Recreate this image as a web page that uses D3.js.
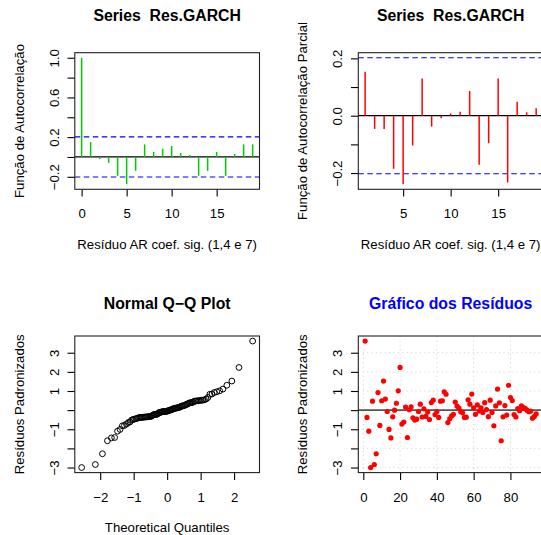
<!DOCTYPE html>
<html lang="pt">
<head>
<meta charset="utf-8">
<title>Res.GARCH</title>
<script src="https://cdnjs.cloudflare.com/ajax/libs/d3/7.8.5/d3.min.js"></script>
<style>
body { margin: 0; background: #fff; }
svg { display: block; }
</style>
</head>
<body>
<script>
// data
var acfLags = d3.range(0, 20);
var acfValues = [1.0, 0.15, -0.02, -0.06, -0.19, -0.275, -0.14, 0.127, 0.05, 0.083,
                 0.11, 0.04, 0.02, -0.19, -0.14, 0.05, -0.19, 0.03, 0.127, 0.127];
var pacfLags = d3.range(1, 20);
var pacfValues = [0.153, -0.046, -0.046, -0.185, -0.239, -0.104, 0.13, -0.038, -0.009, 0.008,
                  0.014, 0.086, -0.171, -0.096, 0.13, -0.233, 0.049, 0.012, 0.026];
var residuos = [3.61, -0.38, -1.10, -3.00, 0.47, -2.84, -2.28, 0.92, -0.80, 0.49,
                1.52, 0.58, -0.07, -1.01, -1.45, -0.35, 0.00, 0.36, 1.01, 2.23,
                -0.73, -0.62, 0.16, -1.43, 0.02, 0.17, -0.40, -0.52, -0.47, -0.07,
                0.31, -0.36, 0.07, -0.33, -0.10, -0.49, 0.40, 0.52, -0.23, -0.07,
                -0.38, 0.47, 0.49, 0.96, 0.83, -0.65, -0.45, -0.30, -0.22, 0.42,
                0.21, 0.10, -0.08, -0.14, -0.38, -0.37, 0.54, 0.31, 0.84, 0.12,
                -0.22, 0.27, -0.05, 0.12, -0.12, 0.39, 0.03, -0.34, 0.52, -0.12,
                -0.82, 0.22, 1.10, 0.38, -1.60, -0.35, 0.24, -0.26, 1.30, 0.66,
                0.50, -0.23, -0.36, 0.08, -0.03, 0.23, 0.13, 0.09, 0.00, -0.08,
                -0.05, -0.42, -0.33, -0.20];

// ticks (only the ones inside each axis range, like R's axTicks)
var acfXTicks = [0, 5, 10, 15];
var acfYTicks = [-0.2, 0, 0.2, 0.4, 0.6, 0.8, 1.0];
var acfYLabels = ["\u22120.2", "", "0.2", "", "0.6", "", "1.0"];
var pacfXTicks = [5, 10, 15];
var pacfYTicks = [-0.2, -0.1, 0, 0.1, 0.2];
var pacfYLabels = ["\u22120.2", "", "0.0", "", "0.2"];
var qqXTicks = [-2, -1, 0, 1, 2];
var qqXLabels = ["\u22122", "\u22121", "0", "1", "2"];
var resXTicks = [0, 20, 40, 60, 80];
var resYTicks = [-3, -2, -1, 0, 1, 2, 3];
var resYLabels = ["\u22123", "", "\u22121", "", "1", "2", "3"];

var FONT = "'Liberation Sans', Arial, Helvetica, sans-serif";
var w = 541, h = 535;
var pw = 184.7, ph = 136.6;
var cols = [74.8, 358.3], rows = [52.7, 336];

var n = residuos.length;
var clim = 1.96 / Math.sqrt(n);

var svg = d3.select("body").append("svg")
  .attr("width", w).attr("height", h)
  .attr("font-family", FONT);

// R style axis limits: data range plus 4%
function rpad(ext) {
  var d = (ext[1] - ext[0]) * 0.04;
  return [ext[0] - d, ext[1] + d];
}

// inverse normal cdf (Acklam) for the qq plot
function qnorm(p) {
  var a = [-39.69683028665376, 220.9460984245205, -275.9285104469687, 138.3577518672690, -30.66479806614716, 2.506628277459239];
  var b = [-54.47609879822406, 161.5858368580409, -155.6989798598866, 66.80131188771972, -13.28068155288572];
  var c = [-0.007784894002430293, -0.3223964580411365, -2.400758277161838, -2.549732539343734, 4.374664141464968, 2.938163982698783];
  var d = [0.007784695709041462, 0.3224671290700398, 2.445134137142996, 3.754408661907416];
  var q, r;
  if (p < 0.02425) {
    q = Math.sqrt(-2 * Math.log(p));
    return (((((c[0]*q+c[1])*q+c[2])*q+c[3])*q+c[4])*q+c[5]) / ((((d[0]*q+d[1])*q+d[2])*q+d[3])*q+1);
  }
  if (p > 1 - 0.02425) return -qnorm(1 - p);
  q = p - 0.5; r = q * q;
  return (((((a[0]*r+a[1])*r+a[2])*r+a[3])*r+a[4])*r+a[5])*q / (((((b[0]*r+b[1])*r+b[2])*r+b[3])*r+b[4])*r+1);
}

function panel(col, row) {
  return svg.append("g").attr("transform", "translate(" + cols[col] + "," + rows[row] + ")");
}

function frame(g, x, y, xt, xl, yt, yl, title, xlab, ylab, titleY, titleColor) {
  var ax = g.append("g").attr("transform", "translate(0," + ph + ")")
    .call(d3.axisBottom(x).tickValues(xt).tickSize(7.3).tickSizeOuter(0)
      .tickFormat(function(d, i) { return xl ? xl[i] : d; }));
  ax.select(".domain").remove();
  ax.attr("font-family", FONT).attr("font-size", 13.2);
  ax.selectAll("line").attr("stroke-width", 1.1);
  ax.selectAll("text").attr("y", 29).attr("dy", null).attr("fill", "#000");

  var ay = g.append("g")
    .call(d3.axisLeft(y).tickValues(yt).tickSize(7.3).tickSizeOuter(0)
      .tickFormat(function(d, i) { return yl[i]; }));
  ay.select(".domain").remove();
  ay.attr("font-family", FONT).attr("font-size", 13.2);
  ay.selectAll("line").attr("stroke-width", 1.1);
  ay.selectAll("text").attr("x", 0).attr("y", -16).attr("dy", null)
    .attr("transform", "rotate(-90)").attr("text-anchor", "middle").attr("fill", "#000");

  g.append("rect").attr("width", pw).attr("height", ph)
    .attr("fill", "none").attr("stroke", "#222").attr("stroke-width", 1.1);

  g.append("text").text(title)
    .attr("x", pw / 2).attr("y", titleY)
    .attr("text-anchor", "middle").attr("font-weight", "bold")
    .attr("font-size", 15.8).attr("fill", titleColor || "#000");
  g.append("text").text(xlab)
    .attr("x", pw / 2).attr("y", ph + 59.5)
    .attr("text-anchor", "middle").attr("font-size", 13.2);
  g.append("text").text(ylab)
    .attr("transform", "translate(-51," + (ph / 2) + ") rotate(-90)")
    .attr("text-anchor", "middle").attr("font-size", 13.2);
}

// 1: ACF
var x1 = d3.scaleLinear().domain(rpad([0, 19])).range([0, pw]);
var y1 = d3.scaleLinear().domain(rpad(d3.extent(acfValues.concat([-clim, clim])))).range([ph, 0]);
var g1 = panel(0, 0);
g1.append("line").attr("x1", 0).attr("x2", pw).attr("y1", y1(0)).attr("y2", y1(0))
  .attr("stroke", "#000").attr("stroke-width", 1.2);
g1.selectAll("line.clim").data([clim, -clim]).enter().append("line")
  .attr("class", "clim")
  .attr("x1", 0).attr("x2", pw)
  .attr("y1", function(d) { return y1(d); }).attr("y2", function(d) { return y1(d); })
  .attr("stroke", "#0000ff").attr("stroke-width", 1.1).attr("stroke-dasharray", "5.5,3.5");
g1.selectAll("line.bar").data(acfValues).enter().append("line")
  .attr("class", "bar")
  .attr("x1", function(d, i) { return x1(acfLags[i]); })
  .attr("x2", function(d, i) { return x1(acfLags[i]); })
  .attr("y1", y1(0))
  .attr("y2", function(d) { return y1(d); })
  .attr("stroke", "#00cd00").attr("stroke-width", 1.5);
frame(g1, x1, y1, acfXTicks, null, acfYTicks, acfYLabels,
  "Series\u00a0 Res.GARCH", "Resíduo AR coef. sig. (1,4 e 7)", "Função de Autocorrelação", -32);

// 2: PACF
var x2 = d3.scaleLinear().domain(rpad([1, 19])).range([0, pw]);
var y2 = d3.scaleLinear().domain(rpad(d3.extent(pacfValues.concat([-clim, clim])))).range([ph, 0]);
var g2 = panel(1, 0);
g2.append("line").attr("x1", 0).attr("x2", pw).attr("y1", y2(0)).attr("y2", y2(0))
  .attr("stroke", "#000").attr("stroke-width", 1.2);
g2.selectAll("line.clim").data([clim, -clim]).enter().append("line")
  .attr("class", "clim")
  .attr("x1", 0).attr("x2", pw)
  .attr("y1", function(d) { return y2(d); }).attr("y2", function(d) { return y2(d); })
  .attr("stroke", "#0000ff").attr("stroke-width", 1.1).attr("stroke-dasharray", "5.5,3.5");
g2.selectAll("line.bar").data(pacfValues).enter().append("line")
  .attr("class", "bar")
  .attr("x1", function(d, i) { return x2(pacfLags[i]); })
  .attr("x2", function(d, i) { return x2(pacfLags[i]); })
  .attr("y1", y2(0))
  .attr("y2", function(d) { return y2(d); })
  .attr("stroke", "#ff0000").attr("stroke-width", 1.5);
frame(g2, x2, y2, pacfXTicks, null, pacfYTicks, pacfYLabels,
  "Series\u00a0 Res.GARCH", "Resíduo AR coef. sig. (1,4 e 7)", "Função de Autocorrelação Parcial", -32);

// 3: Normal Q-Q
var ordenados = residuos.slice().sort(d3.ascending);
var teoricos = ordenados.map(function(d, i) { return qnorm((i + 1 - 0.5) / n); });
var x3 = d3.scaleLinear().domain(rpad(d3.extent(teoricos))).range([0, pw]);
var y3 = d3.scaleLinear().domain(rpad(d3.extent(residuos))).range([ph, 0]);
var g3 = panel(0, 1);
g3.selectAll("circle").data(ordenados).enter().append("circle")
  .attr("cx", function(d, i) { return x3(teoricos[i]); })
  .attr("cy", function(d) { return y3(d); })
  .attr("r", 2.9)
  .attr("fill", "none").attr("stroke", "#000").attr("stroke-width", 1);
frame(g3, x3, y3, qqXTicks, qqXLabels, resYTicks, resYLabels,
  "Normal Q\u2212Q Plot", "Theoretical Quantiles", "Resíduos Padronizados", -27.5);

// 4: residuals by index
var x4 = d3.scaleLinear().domain(rpad([1, n])).range([0, pw]);
var y4 = d3.scaleLinear().domain(rpad(d3.extent(residuos))).range([ph, 0]);
var g4 = panel(1, 1);
g4.selectAll("line.vgrid").data(resXTicks).enter().append("line")
  .attr("class", "vgrid")
  .attr("x1", function(d) { return x4(d); }).attr("x2", function(d) { return x4(d); })
  .attr("y1", 0).attr("y2", ph)
  .attr("stroke", "#d3d3d3").attr("stroke-dasharray", "1.1,3.3");
g4.selectAll("line.hgrid").data(resYTicks).enter().append("line")
  .attr("class", "hgrid")
  .attr("x1", 0).attr("x2", pw)
  .attr("y1", function(d) { return y4(d); }).attr("y2", function(d) { return y4(d); })
  .attr("stroke", "#d3d3d3").attr("stroke-dasharray", "1.1,3.3");
g4.append("line").attr("x1", 0).attr("x2", pw).attr("y1", y4(0)).attr("y2", y4(0))
  .attr("stroke", "#555").attr("stroke-width", 1.8);
g4.selectAll("circle").data(residuos).enter().append("circle")
  .attr("cx", function(d, i) { return x4(i + 1); })
  .attr("cy", function(d) { return y4(d); })
  .attr("r", 2.6)
  .attr("fill", "#ff0000");
frame(g4, x4, y4, resXTicks, null, resYTicks, resYLabels,
  "Gráfico dos Resíduos", "", "Resíduos Padronizados", -27.5, "#0000ff");
</script>
</body>
</html>
